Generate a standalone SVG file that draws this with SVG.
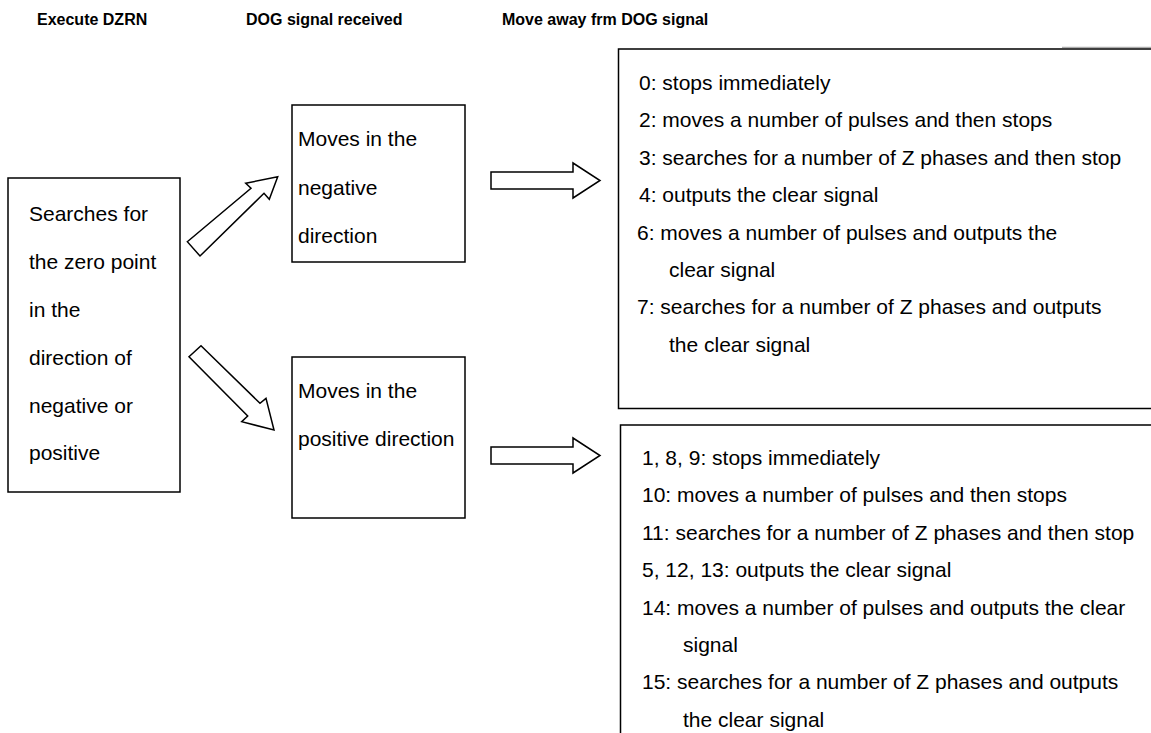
<svg xmlns="http://www.w3.org/2000/svg" width="1151" height="733" viewBox="0 0 1151 733">
<style>
.hdr{font-family:"Liberation Sans",Arial,sans-serif;font-weight:bold;font-size:16px;fill:#000}
.t21{font-family:"Liberation Sans",Arial,sans-serif;font-size:21px;fill:#000}
.box{fill:#fff;stroke:#000;stroke-width:1.5}
.open{fill:none;stroke:#000;stroke-width:1.5}
.arr{fill:#fff;stroke:#000;stroke-width:1.5;stroke-linejoin:miter}
</style>
<rect width="1151" height="733" fill="#fff"/>
<g id="headers">
<text class="hdr" x="37" y="24.5">Execute DZRN</text>
<text class="hdr" x="246" y="24.5">DOG signal received</text>
<text class="hdr" x="502" y="24.5">Move away frm DOG signal</text>
</g>
<g id="node-start">
<rect class="box" x="8" y="178" width="172" height="314"/>
<text class="t21" x="29" y="221">Searches for</text>
<text class="t21" x="29" y="269">the zero point</text>
<text class="t21" x="29" y="317">in the</text>
<text class="t21" x="29" y="364.5">direction of</text>
<text class="t21" x="29" y="412.5">negative or</text>
<text class="t21" x="29" y="460">positive</text>
</g>
<g id="node-negative">
<rect class="box" x="292" y="105" width="173" height="157"/>
<text class="t21" x="298" y="146">Moves in the</text>
<text class="t21" x="298" y="194.5">negative</text>
<text class="t21" x="298" y="243">direction</text>
</g>
<g id="node-positive">
<rect class="box" x="292" y="357" width="173" height="161"/>
<text class="t21" x="298" y="398">Moves in the</text>
<text class="t21" x="298" y="446">positive direction</text>
</g>
<g id="node-neg-result">
<path class="open" d="M1153,49 H618.5 V408.5 H1153"/>
<line x1="1062" y1="47.3" x2="1151" y2="47.3" stroke="#999" stroke-width="1"/>
<text class="t21" x="639" y="90">0: stops immediately</text>
<text class="t21" x="639" y="127.4">2: moves a number of pulses and then stops</text>
<text class="t21" x="639" y="164.8">3: searches for a number of Z phases and then stop</text>
<text class="t21" x="639" y="202.2">4: outputs the clear signal</text>
<text class="t21" x="637" y="239.6">6: moves a number of pulses and outputs the</text>
<text class="t21" x="669" y="277">clear signal</text>
<text class="t21" x="637" y="314.4">7: searches for a number of Z phases and outputs</text>
<text class="t21" x="669" y="351.8">the clear signal</text>
</g>
<g id="node-pos-result">
<path class="open" d="M1153,425 H620.5 V740"/>
<text class="t21" x="642" y="465">1, 8, 9: stops immediately</text>
<text class="t21" x="642" y="502.4">10: moves a number of pulses and then stops</text>
<text class="t21" x="642" y="539.8">11: searches for a number of Z phases and then stop</text>
<text class="t21" x="642" y="577.2">5, 12, 13: outputs the clear signal</text>
<text class="t21" x="642" y="614.6">14: moves a number of pulses and outputs the clear</text>
<text class="t21" x="683" y="652">signal</text>
<text class="t21" x="642" y="689.4">15: searches for a number of Z phases and outputs</text>
<text class="t21" x="683" y="726.8">the clear signal</text>
</g>
<g id="connectors">
<polygon class="arr" points="187.3,241.7 251,188.3 245.7,183.3 277.7,176.7 269.3,199.3 264,193.3 200,256"/>
<polygon class="arr" points="201,345.7 260,403.3 266,398.3 274,430 241.7,421.7 247.7,416 189,356.7"/>
<polygon class="arr" points="491,172 573,172 573,163 600,180.5 573,198 573,189 491,189"/>
<polygon class="arr" points="491,447 573,447 573,438 600,455.5 573,473 573,464 491,464"/>
</g>
</svg>
